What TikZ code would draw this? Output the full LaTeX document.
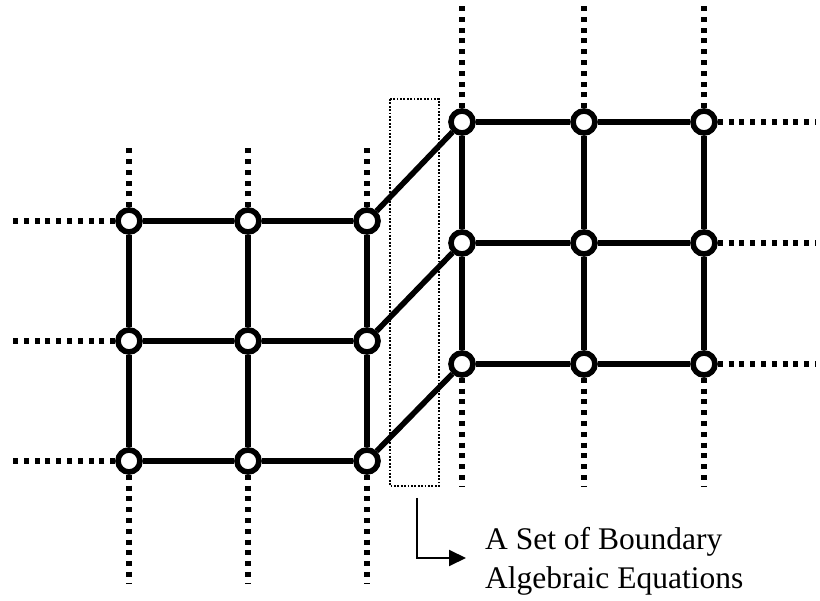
\documentclass[tikz,border=0pt]{standalone}
\usepackage{fontspec}
\setmainfont{Liberation Serif}
\usetikzlibrary{arrows.meta}
\begin{document}
\begin{tikzpicture}[x=1pt,y=-1pt,
  gridnode/.style={circle,draw=black,fill=white,line width=5.6pt,minimum size=22pt,inner sep=0pt},
  link/.style={line width=5.6pt},
  ghost/.style={line width=5.6pt,dash pattern=on 5pt off 5.8pt},
  boundary/.style={line width=1.8pt,dash pattern=on 1.8pt off 1.6pt},
  pointer/.style={line width=2pt,-{Triangle[length=17pt,width=16pt]}},
  label/.style={anchor=base west,inner sep=0pt,font=\fontsize{31.5}{38}\selectfont}]
\useasboundingbox (0,0) rectangle (820,601);

% boundary box between the two grids
\draw[boundary] (390,99) rectangle (439,486);

% left grid nodes
\foreach \c/\x in {1/129,2/248,3/367}{
  \foreach \r/\y in {1/221,2/341,3/461}{
    \node[gridnode] (L\r\c) at (\x,\y) {};
  }
}
% right grid nodes
\foreach \c/\x in {1/462,2/584,3/704}{
  \foreach \r/\y in {1/122,2/243,3/364}{
    \node[gridnode] (R\r\c) at (\x,\y) {};
  }
}

% free ends of the dotted continuation lines
\foreach \c/\x in {1/129,2/248,3/367}{
  \coordinate (LT\c) at (\x,143);
  \coordinate (LB\c) at (\x,583);
}
\foreach \r/\y in {1/221,2/341,3/461}{
  \coordinate (LW\r) at (8,\y);
}
\foreach \c/\x in {1/462,2/584,3/704}{
  \coordinate (RT\c) at (\x,4);
  \coordinate (RB\c) at (\x,486);
}
\foreach \r/\y in {1/122,2/243,3/364}{
  \coordinate (RE\r) at (816,\y);
}

% dotted continuation lines
\foreach \c in {1,2,3}{
  \draw[ghost] (L1\c) -- (LT\c);
  \draw[ghost] (L3\c) -- (LB\c);
  \draw[ghost] (R1\c) -- (RT\c);
  \draw[ghost] (R3\c) -- (RB\c);
}
\foreach \r in {1,2,3}{
  \draw[ghost] (L\r1) -- (LW\r);
  \draw[ghost] (R\r3) -- (RE\r);
}

% solid grid connections
\foreach \r in {1,2,3}{
  \draw[link] (L\r1) -- (L\r2);
  \draw[link] (L\r2) -- (L\r3);
  \draw[link] (R\r1) -- (R\r2);
  \draw[link] (R\r2) -- (R\r3);
  \draw[link] (L\r3) -- (R\r1);
}
\foreach \c in {1,2,3}{
  \draw[link] (L1\c) -- (L2\c);
  \draw[link] (L2\c) -- (L3\c);
  \draw[link] (R1\c) -- (R2\c);
  \draw[link] (R2\c) -- (R3\c);
}

% label with pointer
\node[label] (lab1) at (485,550) {A Set of Boundary};
\node[label] (lab2) at (485,588) {Algebraic Equations};
\coordinate (ptop) at (417,498);
\coordinate (pcorner) at (417,558);
\coordinate (ptip) at (466,558);
\draw[pointer] (ptop) -- (pcorner) -- (ptip);
\end{tikzpicture}
\end{document}
